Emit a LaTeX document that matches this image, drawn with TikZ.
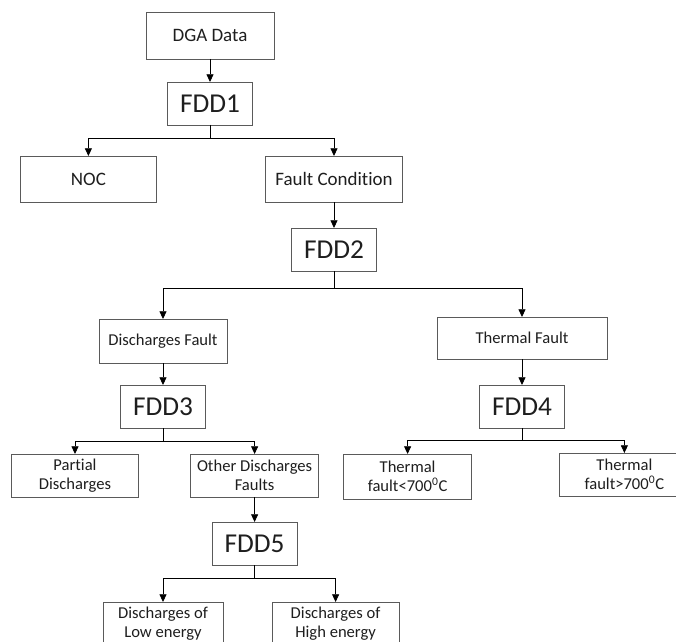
\documentclass[tikz,border=0pt]{standalone}
\usepackage{fontspec}
\setmainfont{Carlito}[Ligatures={NoCommon}]
\usepackage{xcolor}
\usepackage{tikz}
\usetikzlibrary{arrows.meta,positioning}
\definecolor{boxgray}{HTML}{5A5A5A}
\definecolor{textgray}{HTML}{1E1E1E}

\begin{document}
\begin{tikzpicture}[
    node distance=0.6cm,
    box/.style={draw=boxgray, line width=0.7pt, inner sep=0pt, outer sep=0pt,
                align=center, text=textgray,
                font=\fontsize{11.8}{13.8}\selectfont},
    topbox/.style={box, font=\fontsize{13.5}{14}\selectfont},
    fdd/.style={box, minimum width=2.125cm, minimum height=1.075cm,
                font=\fontsize{19.4}{22}\selectfont},
    arrow/.style={-{Triangle[length=5.5pt,width=5pt]}, line width=0.6pt},
]
\clip (-5.25,0.8875) rectangle (11.65,-15.1375);

\node[topbox, minimum width=3.2cm, minimum height=1.175cm] (dga) {DGA Data};
\node[fdd, below=0.575cm of dga] (fdd1) {FDD1};
\node[topbox, minimum width=3.4cm, minimum height=1.15cm,
      below=0.775cm of fdd1, xshift=-3.04cm] (noc) {NOC};
\node[topbox, minimum width=3.425cm, minimum height=1.15cm,
      below=0.775cm of fdd1, xshift=3.1cm] (fault) {Fault Condition};
\node[fdd, below=0.65cm of fault] (fdd2) {FDD2};
\node[box, minimum width=3.2cm, minimum height=1.1cm,
      below=1.2cm of fdd2, xshift=-4.275cm] (disch) {Discharges Fault};
\node[box, minimum width=4.25cm, minimum height=1.05cm,
      below=1.15cm of fdd2, xshift=4.7cm] (therm) {Thermal Fault};
\node[fdd, below=0.55cm of disch] (fdd3) {FDD3};
\node[fdd, below=0.65cm of therm] (fdd4) {FDD4};
\node[box, minimum width=3.175cm, minimum height=1.075cm,
      below=0.65cm of fdd3, xshift=-2.2cm] (pd) {Partial\\Discharges};
\node[box, minimum width=3.2cm, minimum height=1.075cm,
      below=0.65cm of fdd3, xshift=2.29cm] (odf) {Other Discharges\\Faults};
\node[box, minimum width=3.2cm, minimum height=1.125cm,
      below=0.65cm of fdd4, xshift=-2.86cm] (tlow)
      {Thermal\\fault<700\textsuperscript{0}C};
\node[box, minimum width=3.25cm, minimum height=1.075cm,
      below=0.625cm of fdd4, xshift=2.56cm] (thigh)
      {Thermal\\fault>700\textsuperscript{0}C};
\node[fdd, below=0.625cm of odf] (fdd5) {FDD5};
\node[box, minimum width=3.0cm, minimum height=1.075cm,
      below=0.925cm of fdd5, xshift=-2.29cm] (low) {Discharges of\\Low energy};
\node[box, minimum width=3.175cm, minimum height=1.075cm,
      below=0.925cm of fdd5, xshift=2.025cm] (high) {Discharges of\\High energy};

\draw[arrow] (dga) -- (fdd1);
\draw[arrow] (fdd1.south) -- ++(0,-0.325) -| (noc.north);
\draw[arrow] (fdd1.south) -- ++(0,-0.325) -| (fault.north);
\draw[arrow] (fault) -- (fdd2);
\draw[arrow] (fdd2.south) -- ++(0,-0.44) -| (disch.north);
\draw[arrow] (fdd2.south) -- ++(0,-0.44) -| (therm.north);
\draw[arrow] (disch) -- (fdd3);
\draw[arrow] (therm) -- (fdd4);
\draw[arrow] (fdd3.south) -- ++(0,-0.325) -| (pd.north);
\draw[arrow] (fdd3.south) -- ++(0,-0.325) -| (odf.north);
\draw[arrow] (fdd4.south) -- ++(0,-0.3) -| (tlow.north);
\draw[arrow] (fdd4.south) -- ++(0,-0.3) -| (thigh.north);
\draw[arrow] (odf) -- (fdd5);
\draw[arrow] (fdd5.south) -- ++(0,-0.325) -| (low.north);
\draw[arrow] (fdd5.south) -- ++(0,-0.325) -| (high.north);
\end{tikzpicture}
\end{document}
